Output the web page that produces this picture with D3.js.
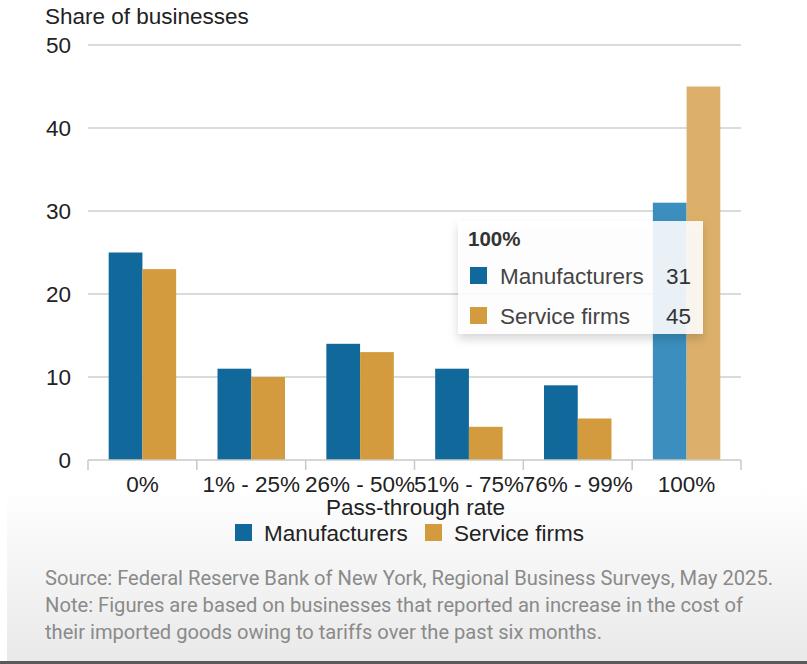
<!DOCTYPE html>
<html>
<head>
<meta charset="utf-8">
<script src="https://cdn.jsdelivr.net/npm/d3@7"></script>
<style>
  body { margin: 0; background: #fff; }
  svg { display: block; font-family: "Liberation Sans", Arial, sans-serif; }
</style>
</head>
<body>
<div id="chart"></div>
<script>
var categories = ["0%", "1% - 25%", "26% - 50%", "51% - 75%", "76% - 99%", "100%"];
var manufacturers = [25, 11, 14, 11, 9, 31];
var serviceFirms = [23, 10, 13, 4, 5, 45];
var seriesNames = ["Manufacturers", "Service firms"];
var yTicks = [0, 10, 20, 30, 40, 50];
var noteLines = [
    "Source: Federal Reserve Bank of New York, Regional Business Surveys, May 2025.",
    "Note: Figures are based on businesses that reported an increase in the cost of",
    "their imported goods owing to tariffs over the past six months."
];
var hoverIndex = 5;

var width = 807, height = 664;
var margin = { left: 88, right: 66, top: 45, bottom: 204 };
var colors = ["#11699b", "#d39b3e"];
var hoverColors = ["#3b8ebd", "#dcb06a"];
var fs = 22.5;

var svg = d3.select("#chart").append("svg")
    .attr("width", width)
    .attr("height", height);

// grey footer panel
var defs = svg.append("defs");
var grad = defs.append("linearGradient").attr("id", "footGrad")
    .attr("x1", 0).attr("y1", 0).attr("x2", 0).attr("y2", 1);
grad.append("stop").attr("offset", "0%").attr("stop-color", "#ffffff");
grad.append("stop").attr("offset", "100%").attr("stop-color", "#e9e9e9");
var shadow = defs.append("filter").attr("id", "tipShadow")
    .attr("x", "-10%").attr("y", "-10%").attr("width", "130%").attr("height", "140%");
shadow.append("feDropShadow").attr("dx", 0).attr("dy", 5).attr("stdDeviation", 5)
    .attr("flood-color", "#000").attr("flood-opacity", 0.18);

svg.append("rect")
    .attr("x", 7).attr("y", 488)
    .attr("width", width - 7).attr("height", 174)
    .attr("fill", "url(#footGrad)");
svg.append("rect")
    .attr("x", 0).attr("y", 661)
    .attr("width", width).attr("height", 3)
    .attr("fill", "#5a5a5a");

var plotW = width - margin.left - margin.right;
var plotH = height - margin.top - margin.bottom;

var g = svg.append("g")
    .attr("transform", "translate(" + margin.left + "," + margin.top + ")");

var x0 = d3.scaleBand()
    .domain(categories)
    .range([0, plotW])
    .paddingInner(0.38)
    .paddingOuter(0.19);

var x1 = d3.scaleBand()
    .domain(seriesNames)
    .range([0, x0.bandwidth()]);

var y = d3.scaleLinear()
    .domain([0, 50])
    .range([plotH, 0]);

// gridlines
g.selectAll(".grid")
    .data(yTicks.filter(function (d) { return d > 0; }))
    .enter().append("line")
    .attr("x1", 0).attr("x2", plotW)
    .attr("y1", function (d) { return y(d); })
    .attr("y2", function (d) { return y(d); })
    .attr("stroke", "#cfcfcf")
    .attr("stroke-width", 1.3);

// y labels
g.selectAll(".ylab")
    .data(yTicks)
    .enter().append("text")
    .attr("x", -17)
    .attr("y", function (d) { return y(d); })
    .attr("dy", "0.35em")
    .attr("text-anchor", "end")
    .attr("font-size", fs)
    .attr("fill", "#222")
    .text(function (d) { return d; });

svg.append("text")
    .attr("x", 45).attr("y", 24)
    .attr("font-size", fs)
    .attr("fill", "#222")
    .text("Share of businesses");

// bars
var data = categories.map(function (c, i) {
    return { cat: c, i: i, vals: [manufacturers[i], serviceFirms[i]] };
});

var groups = g.selectAll(".grp")
    .data(data)
    .enter().append("g")
    .attr("transform", function (d) { return "translate(" + x0(d.cat) + ",0)"; });

groups.selectAll("rect")
    .data(function (d) {
        return d.vals.map(function (v, k) { return { v: v, k: k, i: d.i }; });
    })
    .enter().append("rect")
    .attr("x", function (d) { return x1(seriesNames[d.k]); })
    .attr("y", function (d) { return y(d.v); })
    .attr("width", x1.bandwidth())
    .attr("height", function (d) { return plotH - y(d.v); })
    .attr("fill", function (d) {
        return d.i === hoverIndex ? hoverColors[d.k] : colors[d.k];
    });

// x axis
var xAxis = g.append("g")
    .attr("transform", "translate(0," + plotH + ")");
xAxis.append("line")
    .attr("x1", 0).attr("x2", plotW)
    .attr("stroke", "#c8c8c8").attr("stroke-width", 1.5);
var tickPos = categories.map(function (c) { return x0(c) - x0.step() * x0.paddingInner() / 2; });
tickPos.push(plotW);
xAxis.selectAll(".tk")
    .data(tickPos)
    .enter().append("line")
    .attr("x1", function (d) { return d; })
    .attr("x2", function (d) { return d; })
    .attr("y1", 0).attr("y2", 10)
    .attr("stroke", "#c8c8c8").attr("stroke-width", 1.5);

xAxis.selectAll(".xlab")
    .data(categories)
    .enter().append("text")
    .attr("x", function (d) { return x0(d) + x0.bandwidth() / 2; })
    .attr("y", 32)
    .attr("text-anchor", "middle")
    .attr("font-size", fs)
    .attr("fill", "#222")
    .text(function (d) { return d; });

xAxis.append("text")
    .attr("x", plotW / 2 + 1)
    .attr("y", 55)
    .attr("text-anchor", "middle")
    .attr("font-size", fs)
    .attr("fill", "#222")
    .text("Pass-through rate");

// legend
var legend = svg.append("g").attr("transform", "translate(235,524)");
var legX = [0, 190];
seriesNames.forEach(function (name, k) {
    legend.append("rect")
        .attr("x", legX[k]).attr("y", 0)
        .attr("width", 17).attr("height", 17)
        .attr("fill", colors[k]);
    legend.append("text")
        .attr("x", legX[k] + 29).attr("y", 17)
        .attr("font-size", fs)
        .attr("fill", "#222")
        .text(name);
});

// notes
svg.selectAll(".note")
    .data(noteLines)
    .enter().append("text")
    .attr("x", 45)
    .attr("y", function (d, i) { return 585 + i * 27; })
    .attr("font-family", "Roboto, sans-serif")
    .attr("font-size", 20.5)
    .attr("fill", "#8a8a8a")
    .attr("textLength", function (d, i) { return [728, 698, 557][i]; })
    .attr("lengthAdjust", "spacingAndGlyphs")
    .text(function (d) { return d; });

// tooltip
var tip = svg.append("g").attr("transform", "translate(458,221)");
tip.append("rect")
    .attr("width", 245).attr("height", 113)
    .attr("fill", "#fff")
    .attr("fill-opacity", 0.88)
    .attr("filter", "url(#tipShadow)");
tip.append("text")
    .attr("x", 10).attr("y", 25)
    .attr("font-size", 20.5)
    .attr("font-weight", "bold")
    .attr("fill", "#333")
    .text(categories[hoverIndex]);
var tipVals = [manufacturers[hoverIndex], serviceFirms[hoverIndex]];
seriesNames.forEach(function (name, k) {
    var ry = 46 + k * 40;
    tip.append("rect")
        .attr("x", 12).attr("y", ry)
        .attr("width", 17).attr("height", 17)
        .attr("fill", colors[k]);
    tip.append("text")
        .attr("x", 42).attr("y", ry + 17)
        .attr("font-size", fs)
        .attr("fill", "#444")
        .text(name);
    tip.append("text")
        .attr("x", 233).attr("y", ry + 17)
        .attr("text-anchor", "end")
        .attr("font-size", fs)
        .attr("fill", "#333")
        .text(tipVals[k]);
});
</script>
</body>
</html>
